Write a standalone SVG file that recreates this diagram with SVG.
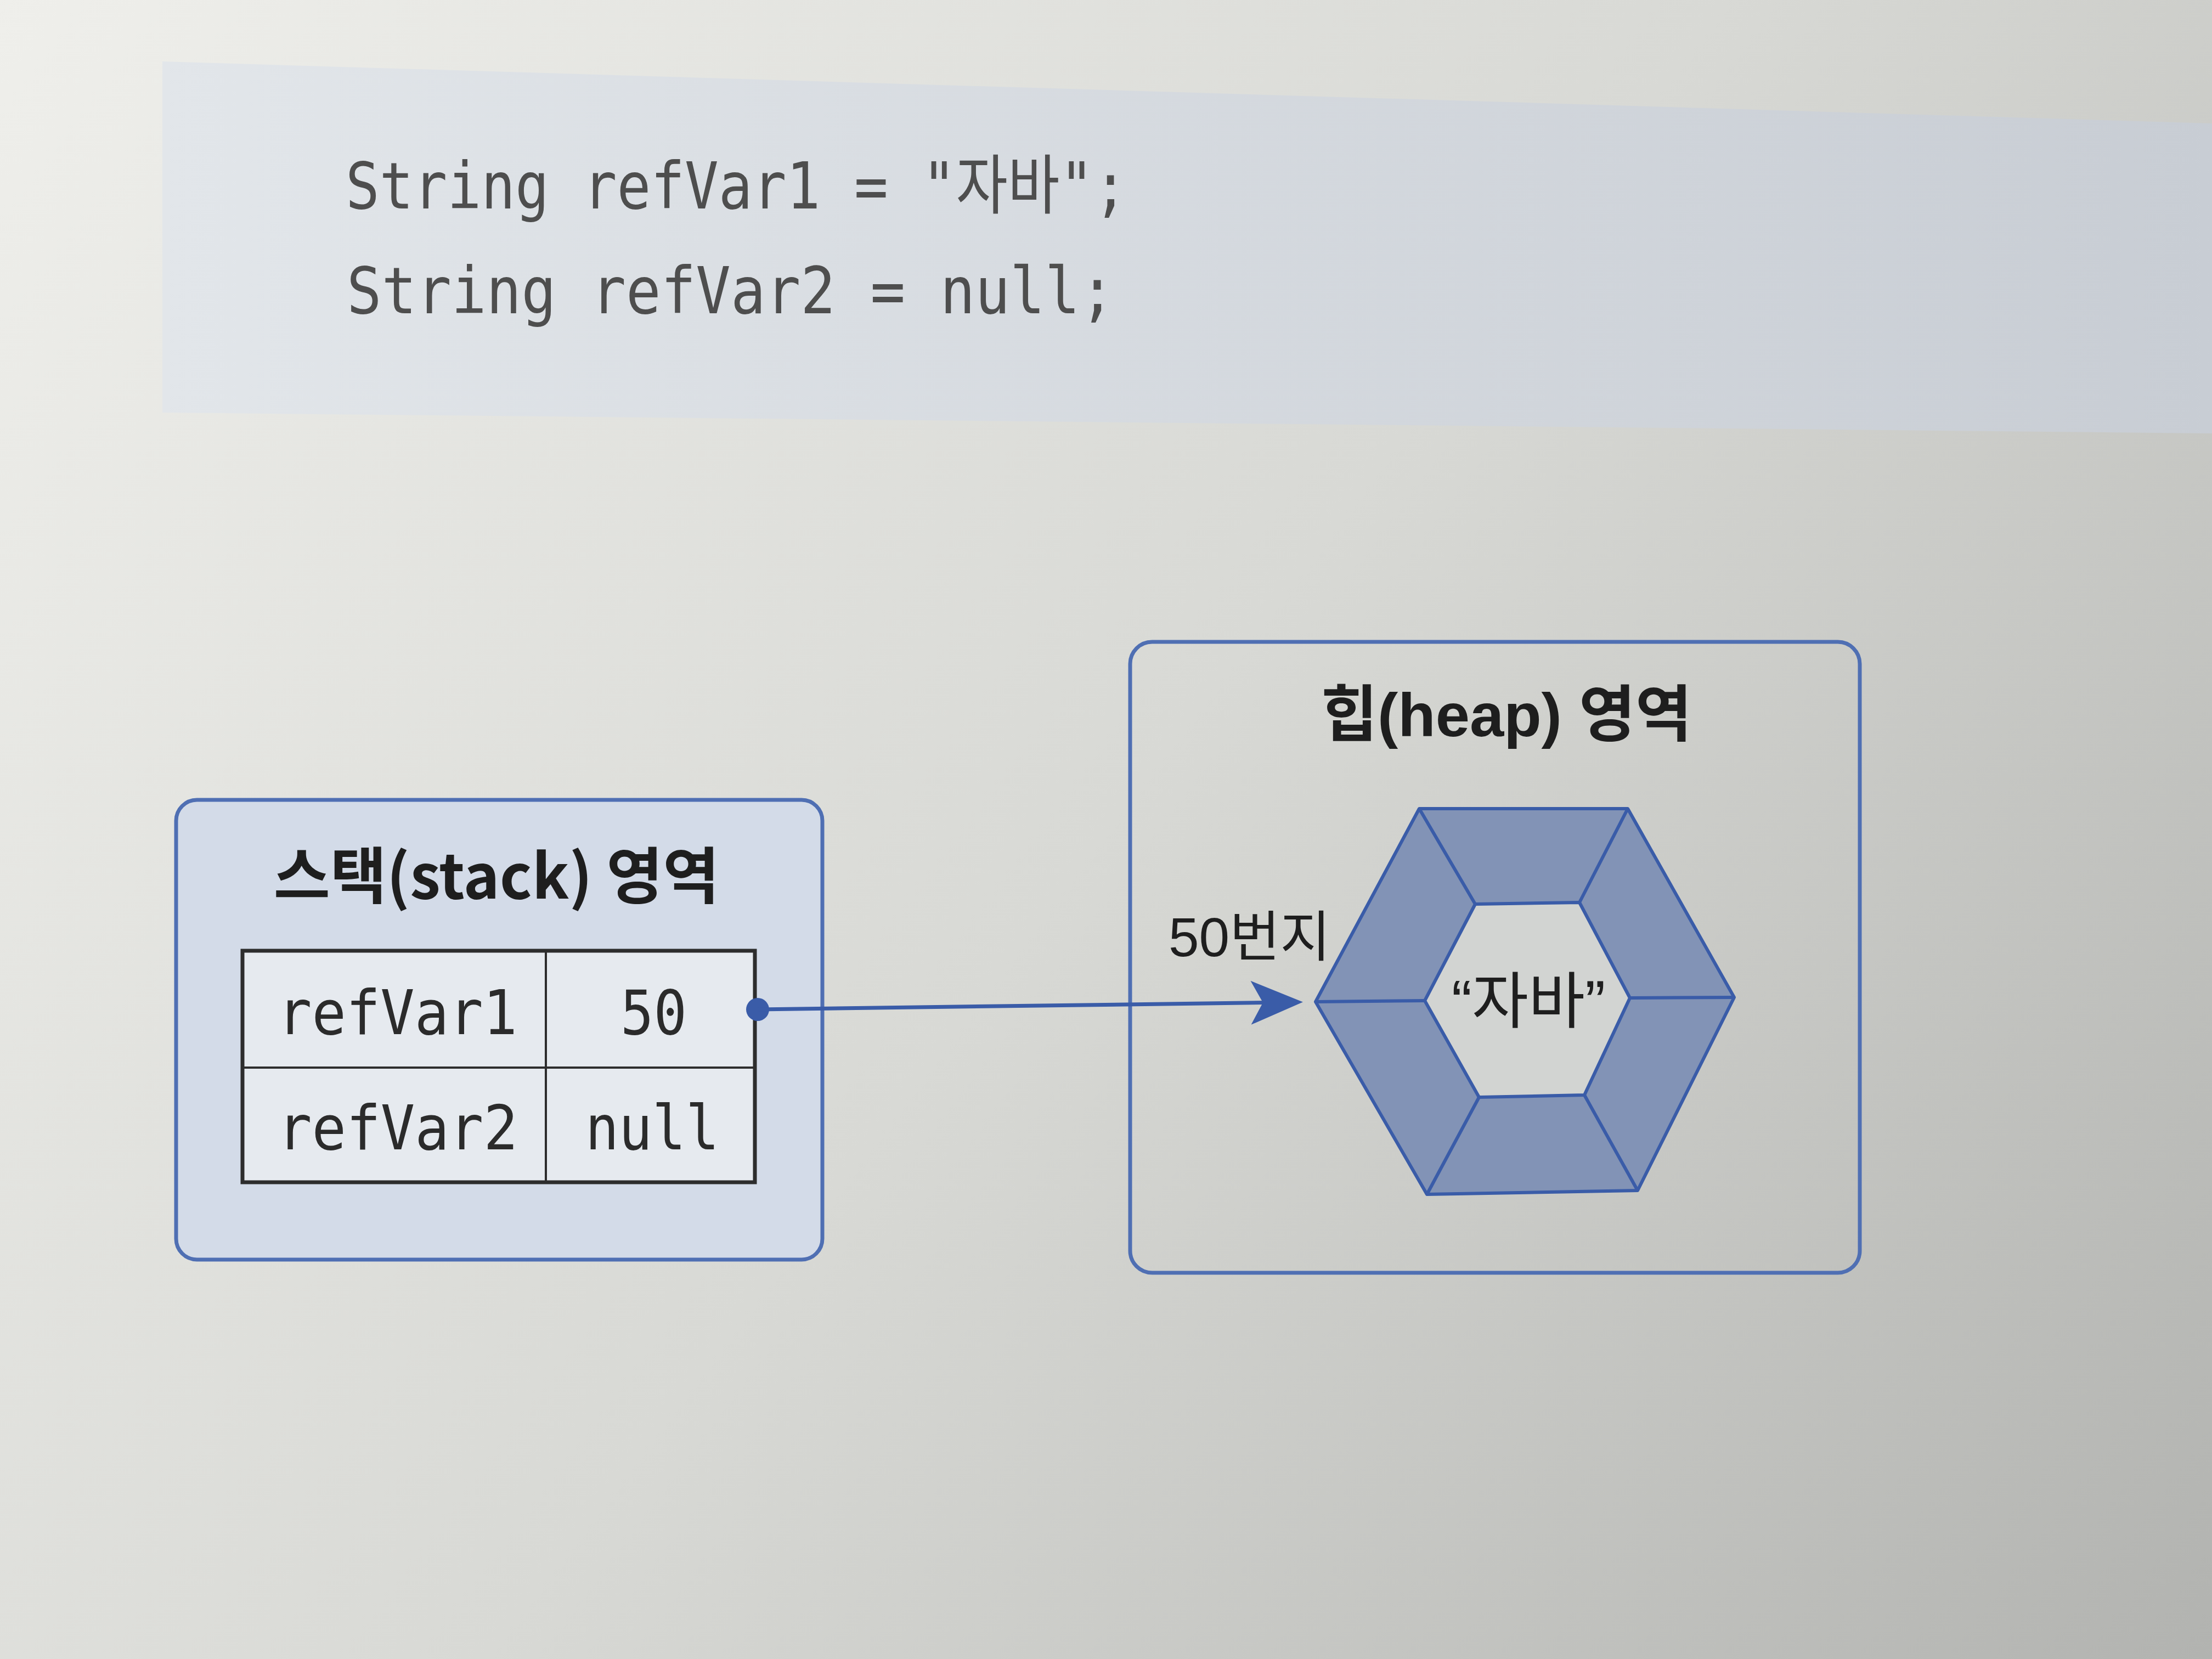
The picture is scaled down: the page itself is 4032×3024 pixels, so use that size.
<svg xmlns="http://www.w3.org/2000/svg" width="4032" height="3024" viewBox="0 0 4032 3024">
<defs>
<linearGradient id="bg" x1="0" y1="0" x2="4032" y2="3024" gradientUnits="userSpaceOnUse">
<stop offset="0" stop-color="#efefeb"/>
<stop offset="0.5" stop-color="#d8d9d5"/>
<stop offset="1" stop-color="#b2b3b0"/>
</linearGradient>
<linearGradient id="code" x1="296" y1="0" x2="4032" y2="0" gradientUnits="userSpaceOnUse">
<stop offset="0" stop-color="#e2e6ea"/>
<stop offset="1" stop-color="#c8cdd4"/>
</linearGradient>
<marker id="arrow" viewBox="0 0 95 80" refX="60" refY="40" markerWidth="95" markerHeight="80" markerUnits="userSpaceOnUse" orient="auto">
<path d="M0,0 L95,40 L0,80 L22,40 Z" fill="#3a5ca8"/>
</marker>
<style>
.mono{font-family:"DejaVu Sans Mono","Liberation Mono","Noto Sans CJK KR",monospace;}
.code{font-size:118px;fill:#4e4e4e;}
.cell{font-size:112px;fill:#2b2b2b;}
.title{font-family:"Noto Sans CJK KR","Noto Sans",sans-serif;font-weight:bold;font-size:112px;fill:#1e1e1e;}
.htitle{font-family:"Liberation Sans","Noto Sans CJK KR",sans-serif;font-weight:bold;font-size:112px;fill:#1e1e1e;}
.label{font-family:"Liberation Sans","Noto Sans CJK KR",sans-serif;font-size:100px;fill:#1e1e1e;}
.area{stroke:#4f6fb3;stroke-width:7;}
.grid{stroke:#2d2d2d;stroke-width:7;fill:none;}
.hex{stroke:#3a5ca8;stroke-width:6;stroke-linejoin:round;}
</style>
</defs>
<rect x="0" y="0" width="4032" height="3024" fill="url(#bg)"/>
<polygon points="296,112 4032,225 4032,790 296,752" fill="url(#code)"/>
<g id="code-block">
<text class="mono code" x="630" y="380" textLength="1425" lengthAdjust="spacingAndGlyphs">String refVar1 = "자바";</text>
<text class="mono code" x="632" y="571" textLength="1400" lengthAdjust="spacingAndGlyphs">String refVar2 = null;</text>
</g>
<g id="stack">
<rect class="area" x="321" y="1458" width="1178" height="838" rx="38" fill="#d3dbe8"/>
<text class="title" x="905" y="1638" text-anchor="middle">스택(stack) 영역</text>
<rect x="442" y="1733" width="934" height="422" fill="#e6eaef"/>
<rect class="grid" x="442" y="1733" width="934" height="422"/>
<line class="grid" x1="995" y1="1733" x2="995" y2="2155" style="stroke-width:4"/>
<line class="grid" x1="442" y1="1946" x2="1376" y2="1946" style="stroke-width:4"/>
<text class="mono cell" x="506" y="1885" textLength="437" lengthAdjust="spacingAndGlyphs">refVar1</text>
<text class="mono cell" x="1131" y="1885" textLength="121" lengthAdjust="spacingAndGlyphs">50</text>
<text class="mono cell" x="506" y="2095" textLength="438" lengthAdjust="spacingAndGlyphs">refVar2</text>
<text class="mono cell" x="1067" y="2095" textLength="244" lengthAdjust="spacingAndGlyphs">null</text>
</g>
<g id="heap">
<rect class="area" x="2060" y="1170" width="1330" height="1150" rx="40" fill="none"/>
<text class="htitle" x="2746" y="1342" text-anchor="middle">힙(heap) 영역</text>
<text class="label" x="2130" y="1743">50번지</text>
</g>
<g id="string-object">
<polygon class="hex" points="2398,1826 2587,1474 2967,1474 3161,1818 2985,2170 2601,2177" fill="#8293b6"/>
<polygon class="hex" points="2597,1824 2689,1648 2879,1645 2971,1819 2888,1996 2696,2000" fill="#d2d4d2"/>
<line class="hex" x1="2398" y1="1826" x2="2597" y2="1824"/>
<line class="hex" x1="2587" y1="1474" x2="2689" y2="1648"/>
<line class="hex" x1="2967" y1="1474" x2="2879" y2="1645"/>
<line class="hex" x1="3161" y1="1818" x2="2971" y2="1819"/>
<line class="hex" x1="2985" y1="2170" x2="2888" y2="1996"/>
<line class="hex" x1="2601" y1="2177" x2="2696" y2="2000"/>
<text class="label" x="2786" y="1865" text-anchor="middle" style="font-size:112px">“자바”</text>
</g>
<g id="connectors">
<circle cx="1381" cy="1840" r="21" fill="#3a5ca8"/>
<line x1="1381" y1="1840" x2="2340" y2="1827" stroke="#3a5ca8" stroke-width="7" marker-end="url(#arrow)"/>
</g>
</svg>
